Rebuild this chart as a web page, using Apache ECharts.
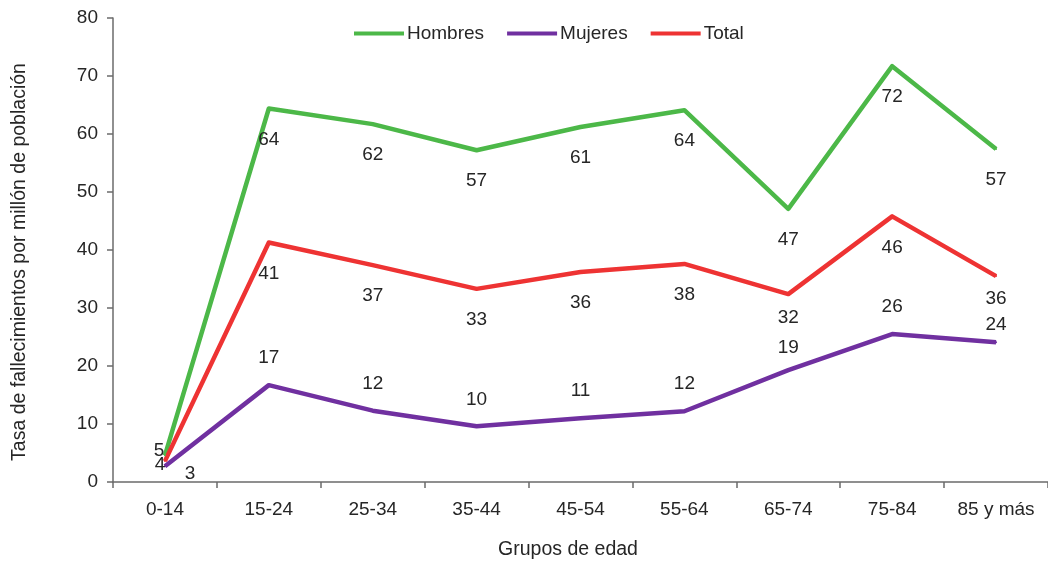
<!DOCTYPE html>
<html lang="es">
<head>
<meta charset="utf-8">
<title>Tasa de fallecimientos por grupos de edad</title>
<script src="https://cdn.jsdelivr.net/npm/echarts@6/dist/echarts.min.js"></script>
<style>
  html, body { margin: 0; padding: 0; background: #ffffff; }
  #grafico { width: 1048px; height: 563px; }
</style>
</head>
<body>
<div id="grafico"></div>
<script>
// Grupos de edad y tasas de fallecimiento por millón de población
const categorias = ['0-14', '15-24', '25-34', '35-44', '45-54', '55-64', '65-74', '75-84', '85 y más'];
const hombres = [4.6, 64.4, 61.7, 57.2, 61.2, 64.1, 47.1, 71.7, 57.4];
const mujeres = [2.7, 16.7, 12.3, 9.6, 11.0, 12.2, 19.3, 25.5, 24.1];
const total   = [3.6, 41.3, 37.4, 33.3, 36.2, 37.6, 32.4, 45.8, 35.5];

const fuente = '"Liberation Sans", Arial, sans-serif';
const colorTexto = '#262626';
const colorEje = '#6b6b6b';
const tamSimbolo = 2;

// Etiqueta centrada sobre el punto, desplazada (dx, dy); algunos puntos llevan ajuste propio
function conEtiquetas(valores, desplazamiento, ajustes) {
  return valores.map((v, i) => {
    const d = ajustes[i] || desplazamiento;
    return {
      value: v,
      label: {
        position: [tamSimbolo / 2 + d[0], tamSimbolo / 2 + d[1]],
        align: 'center',
        verticalAlign: 'middle'
      }
    };
  });
}

function serie(nombre, color, datos) {
  return {
    name: nombre,
    type: 'line',
    data: datos,
    symbol: 'circle',
    symbolSize: tamSimbolo,
    showSymbol: true,
    itemStyle: { color: color },
    lineStyle: { color: color, width: 4.5, join: 'round' },
    label: {
      show: true,
      formatter: p => String(Math.round(p.value)),
      color: colorTexto,
      fontFamily: fuente,
      fontSize: 19
    },
    labelLayout: { hideOverlap: false },
    emphasis: { disabled: true }
  };
}

const grafico = echarts.init(document.getElementById('grafico'), null, { renderer: 'canvas' });

grafico.setOption({
  animation: false,
  backgroundColor: '#ffffff',
  grid: { left: 113, top: 18, width: 945, height: 464, containLabel: false },
  legend: {
    top: 19,
    left: 349,
    icon: 'rect',
    itemWidth: 50,
    itemHeight: 4,
    itemGap: 23,
    textStyle: { color: colorTexto, fontFamily: fuente, fontSize: 19, padding: [0, 0, 0, -2] },
    data: ['Hombres', 'Mujeres', 'Total']
  },
  xAxis: {
    type: 'category',
    data: categorias,
    boundaryGap: true,
    axisLine: { lineStyle: { color: colorEje, width: 1.5 } },
    axisTick: { show: true, length: 6, lineStyle: { color: colorEje, width: 1.5 } },
    axisLabel: { color: colorTexto, fontFamily: fuente, fontSize: 19, margin: 18 },
    splitLine: { show: false }
  },
  yAxis: {
    type: 'value',
    min: 0,
    max: 80,
    interval: 10,
    axisLine: { show: true, lineStyle: { color: colorEje, width: 1.5 } },
    axisTick: { show: true, length: 6, lineStyle: { color: colorEje, width: 1.5 } },
    axisLabel: { color: colorTexto, fontFamily: fuente, fontSize: 19, margin: 15 },
    splitLine: { show: false }
  },
  graphic: [
    {
      type: 'text',
      x: 568,
      y: 550,
      style: {
        text: 'Grupos de edad',
        fill: colorTexto,
        font: '19.5px ' + fuente,
        textAlign: 'center',
        textVerticalAlign: 'middle'
      }
    },
    {
      type: 'text',
      x: 20,
      y: 262,
      rotation: Math.PI / 2,
      style: {
        text: 'Tasa de fallecimientos por millón de población',
        fill: colorTexto,
        font: '19.5px ' + fuente,
        textAlign: 'center',
        textVerticalAlign: 'middle'
      }
    }
  ],
  series: [
    serie('Hombres', '#4CB848', conEtiquetas(hombres, [0, 31], { 0: [-6, -5] })),
    serie('Mujeres', '#7030A0', conEtiquetas(mujeres, [0, -27], { 0: [25, 7], 6: [0, -22], 8: [0, -17] })),
    serie('Total', '#EE3333', conEtiquetas(total, [0, 31], { 0: [-5, 4], 6: [0, 24], 8: [0, 23] }))
  ]
});
</script>
</body>
</html>
